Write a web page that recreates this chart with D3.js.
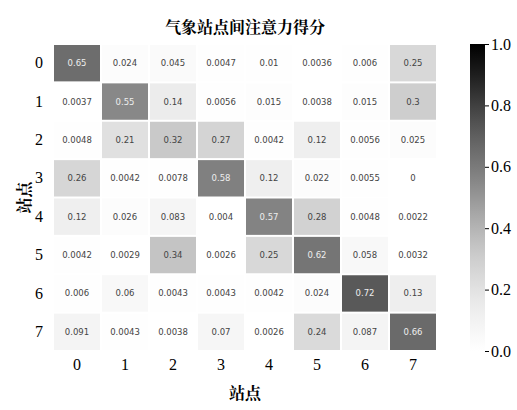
<!DOCTYPE html>
<html><head><meta charset="utf-8">
<script src="https://cdn.jsdelivr.net/npm/d3@7"></script>
<style>body{margin:0;background:#fff}svg{display:block}</style>
</head><body>
<svg id="c" width="517" height="410"></svg>
<script>
const stations = ["0","1","2","3","4","5","6","7"];
const row0 = [0.65, 0.024, 0.045, 0.0047, 0.01, 0.0036, 0.006, 0.25];
const row1 = [0.0037, 0.55, 0.14, 0.0056, 0.015, 0.0038, 0.015, 0.3];
const row2 = [0.0048, 0.21, 0.32, 0.27, 0.0042, 0.12, 0.0056, 0.025];
const row3 = [0.26, 0.0042, 0.0078, 0.58, 0.12, 0.022, 0.0055, 0];
const row4 = [0.12, 0.026, 0.083, 0.004, 0.57, 0.28, 0.0048, 0.0022];
const row5 = [0.0042, 0.0029, 0.34, 0.0026, 0.25, 0.62, 0.058, 0.0032];
const row6 = [0.006, 0.06, 0.0043, 0.0043, 0.0042, 0.024, 0.72, 0.13];
const row7 = [0.091, 0.0043, 0.0038, 0.07, 0.0026, 0.24, 0.087, 0.66];
const matrix = [row0,row1,row2,row3,row4,row5,row6,row7];
const cbTicks = [0, 0.2, 0.4, 0.6, 0.8, 1.0];
const title = "气象站点间注意力得分";
const axisLabel = "站点";

const svg = d3.select("#c");
const L = 53, R = 437, T = 44, B = 351;
const x = d3.scaleBand().domain(stations).range([L, R]);
const y = d3.scaleBand().domain(stations).range([T, B]);
const color = d3.scaleSequential(d3.interpolateGreys).domain([0, 1]);
const fmt = d3.format(".2~g");

const cells = [];
matrix.forEach((r, i) => r.forEach((v, j) => cells.push({r: stations[i], c: stations[j], v})));

svg.append("g").selectAll("rect").data(cells).join("rect")
  .attr("x", d => x(d.c) + 1).attr("y", d => y(d.r) + 1)
  .attr("width", x.bandwidth() - 2).attr("height", y.bandwidth() - 2)
  .attr("fill", d => color(d.v));

svg.append("g").selectAll("text").data(cells).join("text")
  .attr("x", d => x(d.c) + x.bandwidth()/2)
  .attr("y", d => y(d.r) + y.bandwidth()/2)
  .attr("text-anchor", "middle").attr("dominant-baseline", "central")
  .attr("font-family", "DejaVu Sans, sans-serif").attr("font-size", 8.5)
  .attr("fill", d => d.v > 0.45 ? "#eee" : "#444")
  .text(d => fmt(d.v));

const tickFont = "Liberation Serif, Times New Roman, serif";
const xAxis = svg.append("g").attr("transform", `translate(0,${B})`)
  .call(d3.axisBottom(x).tickSize(0).tickPadding(8));
xAxis.select(".domain").remove();
xAxis.selectAll("text").attr("font-family", tickFont).attr("font-size", 16).attr("fill", "#000");

const yAxis = svg.append("g").attr("transform", `translate(${L},0)`)
  .call(d3.axisLeft(y).tickSize(0).tickPadding(10));
yAxis.select(".domain").remove();
yAxis.selectAll("text").attr("font-family", tickFont).attr("font-size", 16).attr("fill", "#000");

const cjk = "Noto Serif CJK SC, Noto Sans CJK SC, sans-serif";
svg.append("text").attr("x", (L+R)/2).attr("y", 33).attr("text-anchor", "middle")
  .attr("font-family", cjk).attr("font-size", 16).attr("font-weight", "bold")
  .text(title);
svg.append("text").attr("x", (L+R)/2).attr("y", 399).attr("text-anchor", "middle")
  .attr("font-family", cjk).attr("font-size", 16).attr("font-weight", "bold")
  .text(axisLabel);
svg.append("text").attr("transform", `translate(23,${(T+B)/2}) rotate(-90)`).attr("text-anchor", "middle")
  .attr("dominant-baseline", "central")
  .attr("font-family", cjk).attr("font-size", 16).attr("font-weight", "bold")
  .text(axisLabel);

// colorbar
const cbX = 470, cbW = 15;
const cy = d3.scaleLinear().domain([0, 1]).range([B, T]);
const defs = svg.append("defs");
const grad = defs.append("linearGradient").attr("id", "g").attr("x1", 0).attr("y1", 1).attr("x2", 0).attr("y2", 0);
d3.range(0, 1.0001, 0.05).forEach(t => grad.append("stop").attr("offset", t).attr("stop-color", color(t)));
svg.append("rect").attr("x", cbX).attr("y", T).attr("width", cbW).attr("height", B - T).attr("fill", "url(#g)");
const cAxis = svg.append("g").attr("transform", `translate(${cbX + cbW},0)`)
  .call(d3.axisRight(cy).tickValues(cbTicks).tickFormat(d3.format(".1f")).tickSize(4).tickPadding(2));
cAxis.select(".domain").remove();
cAxis.selectAll("text").attr("font-family", tickFont).attr("font-size", 16).attr("fill", "#000");
</script>
</body></html>
